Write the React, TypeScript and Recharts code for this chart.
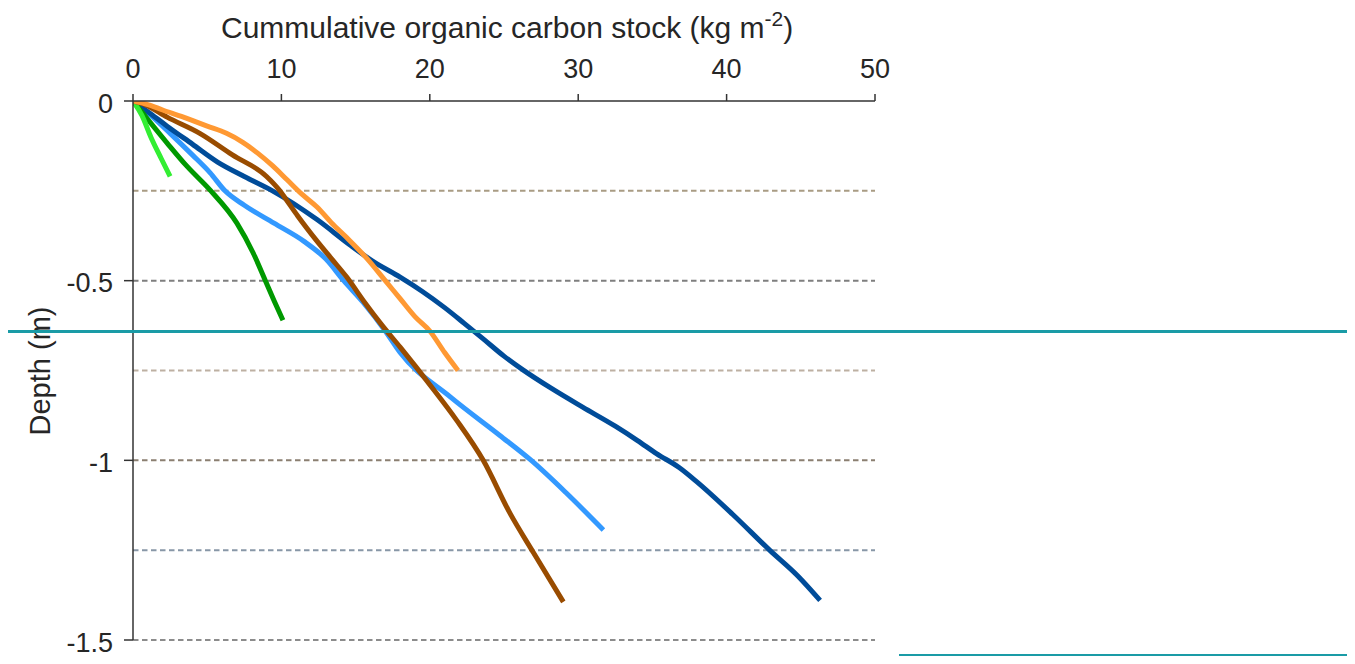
import React from 'react';
import { LineChart, Line, XAxis, YAxis, ReferenceLine, Label } from 'recharts';

// Axis ticks
const stockTicks = [0, 10, 20, 30, 40, 50];
const depthTicks = [0, -0.5, -1, -1.5];

// Dashed horizon lines (depth, m) and their tints
const horizonDepths = [-0.25, -0.5, -0.75, -1, -1.25, -1.5];
const horizonColors = ['#a99c84', '#7f7f7f', '#bdb0a2', '#8b7f71', '#8897a7', '#8c8c8c'];

// Cumulative stock (kg m-2) against depth (m) for each profile
const lightGreenStock = [0, 0.6, 1.2, 1.9, 2.5];
const lightGreenDepth = [0, -0.04, -0.1, -0.16, -0.21];

const darkGreenStock = [0, 2.3, 3.6, 5.2, 7.0, 8.1, 8.9, 9.5, 10.1];
const darkGreenDepth = [0, -0.117, -0.18, -0.248, -0.34, -0.423, -0.498, -0.555, -0.61];

const lightBlueStock = [0, 1.2, 2.5, 4.0, 5.2, 6.2, 7.5, 9.5, 11.5, 13.0, 14.2, 15.5, 17.0, 18.0, 21.4, 24.7, 26.8, 29.2, 31.7];
const lightBlueDepth = [0, -0.04, -0.09, -0.15, -0.2, -0.25, -0.29, -0.34, -0.39, -0.44, -0.5, -0.56, -0.64, -0.7, -0.824, -0.93, -0.999, -1.091, -1.194];

const darkBlueStock = [0, 1.0, 2.3, 4.0, 5.7, 7.5, 9.4, 12.4, 14.6, 16.2, 18.0, 19.5, 21.0, 22.3, 23.6, 25.0, 26.3, 28.2, 30.3, 32.5, 34.0, 35.3, 36.8, 38.0, 40.4, 42.9, 44.8, 46.3];
const darkBlueDepth = [0, -0.03, -0.07, -0.12, -0.17, -0.21, -0.25, -0.33, -0.4, -0.447, -0.49, -0.53, -0.575, -0.618, -0.662, -0.71, -0.749, -0.8, -0.852, -0.905, -0.945, -0.982, -1.02, -1.06, -1.15, -1.25, -1.322, -1.39];

const orangeStock = [0, 1.0, 2.0, 3.4, 5.0, 6.3, 7.4, 8.4, 9.4, 10.4, 11.4, 12.4, 13.4, 14.4, 15.8, 17.0, 18.0, 19.0, 20.0, 21.0, 21.9];
const orangeDepth = [0, -0.01, -0.025, -0.045, -0.07, -0.09, -0.115, -0.145, -0.18, -0.22, -0.26, -0.295, -0.34, -0.38, -0.44, -0.5, -0.55, -0.6, -0.64, -0.7, -0.75];

const brownStock = [0, 0.8, 2.3, 4.5, 6.7, 9.0, 9.9, 10.5, 11.1, 12.4, 13.4, 14.4, 15.6, 16.8, 18.0, 20.2, 21.8, 23.6, 25.4, 27.0, 29.0];
const brownDepth = [0, -0.01, -0.045, -0.09, -0.15, -0.21, -0.25, -0.285, -0.32, -0.39, -0.44, -0.49, -0.56, -0.625, -0.685, -0.8, -0.888, -1.0, -1.147, -1.258, -1.394];

const toPoints = (stock: number[], depth: number[]) =>
  stock.map((c, i) => ({ c, d: depth[i] }));

const profiles = [
  { key: 'lightBlue', color: '#3399ff', data: toPoints(lightBlueStock, lightBlueDepth) },
  { key: 'darkBlue', color: '#004c99', data: toPoints(darkBlueStock, darkBlueDepth) },
  { key: 'darkGreen', color: '#009900', data: toPoints(darkGreenStock, darkGreenDepth) },
  { key: 'lightGreen', color: '#33ee33', data: toPoints(lightGreenStock, lightGreenDepth) },
  { key: 'brown', color: '#994c00', data: toPoints(brownStock, brownDepth) },
  { key: 'orange', color: '#ff9933', data: toPoints(orangeStock, orangeDepth) },
];

const FONT = '"Liberation Sans", Arial, Helvetica, sans-serif';
const INK = '#262626';

const StockTick = (props: any) => {
  const { x, y, payload } = props;
  return (
    <text x={x} y={y} textAnchor="middle" fontSize={27} fill={INK} fontFamily={FONT}>
      {payload.value}
    </text>
  );
};

const DepthTick = (props: any) => {
  const { x, y, payload } = props;
  return (
    <text x={x} y={y} dy="0.43em" textAnchor="end" fontSize={27} fill={INK} fontFamily={FONT}>
      {payload.value}
    </text>
  );
};

const StockTitle = () => (
  <text x={221} y={38} fontSize={30} fill={INK} fontFamily={FONT}>
    Cummulative organic carbon stock (kg m
    <tspan dy={-12} fontSize={21}>-2</tspan>
    <tspan dy={12}>)</tspan>
  </text>
);

const DepthTitle = () => (
  <text
    x={0}
    y={0}
    transform="translate(50,371) rotate(-90)"
    textAnchor="middle"
    fontSize={29}
    fill={INK}
    fontFamily={FONT}
  >
    Depth (m)
  </text>
);

export default function App() {
  return (
    // negative margin cancels the page margin so the chart fills the window
    <div style={{ position: 'relative', width: 1355, height: 664, margin: -8 }}>
      <LineChart
        width={1355}
        height={664}
        margin={{ top: 61, right: 480, bottom: 24, left: 73 }}
        style={{ fontFamily: FONT }}
      >
        <XAxis
          xAxisId="stock"
          type="number"
          dataKey="c"
          orientation="top"
          domain={[0, 50]}
          ticks={stockTicks}
          height={40}
          tickSize={7}
          tickMargin={16}
          tick={<StockTick />}
          axisLine={{ stroke: '#333', strokeWidth: 1.5 }}
          tickLine={{ stroke: '#333', strokeWidth: 1.5 }}
          allowDataOverflow
        >
          <Label content={<StockTitle />} />
        </XAxis>
        <YAxis
          yAxisId="depth"
          type="number"
          dataKey="d"
          domain={[-1.5, 0]}
          ticks={depthTicks}
          width={60}
          tickSize={9}
          tickMargin={11}
          tick={<DepthTick />}
          axisLine={{ stroke: '#333', strokeWidth: 1.5 }}
          tickLine={{ stroke: '#333', strokeWidth: 1.5 }}
          allowDataOverflow
        >
          <Label content={<DepthTitle />} />
        </YAxis>
        {horizonDepths.map((d, i) => (
          <ReferenceLine
            key={`h${d}`}
            xAxisId="stock"
            yAxisId="depth"
            y={d}
            stroke={horizonColors[i]}
            strokeWidth={2}
            strokeDasharray="5.5 3.5"
          />
        ))}
        {profiles.map((p) => (
          <Line
            key={p.key}
            xAxisId="stock"
            yAxisId="depth"
            data={p.data}
            dataKey="d"
            type="monotone"
            stroke={p.color}
            strokeWidth={5}
            dot={false}
            activeDot={false}
            isAnimationActive={false}
          />
        ))}
      </LineChart>
      <div
        style={{
          position: 'absolute',
          left: 7,
          top: 329.5,
          width: 1343,
          height: 3.5,
          background: '#1a9ba6',
        }}
      />
      <div
        style={{
          position: 'absolute',
          left: 899,
          top: 654,
          width: 448,
          height: 3,
          background: '#1a9ba6',
        }}
      />
    </div>
  );
}
